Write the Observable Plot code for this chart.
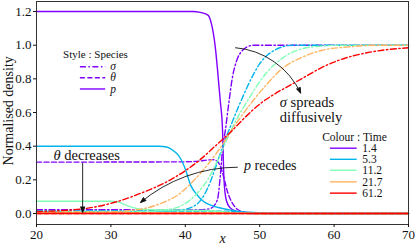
<!DOCTYPE html>
<html><head><meta charset="utf-8">
<script src="https://cdn.jsdelivr.net/npm/d3@7"></script>
<script src="https://cdn.jsdelivr.net/npm/@observablehq/plot@0.6"></script>
<style>body{margin:0;background:#fff}</style>
</head><body><div id="chart"></div>
<script>
// ---- data ----
const times = [1.4, 5.3, 11.2, 21.7, 61.2];
const timeColors = ["#8000ff", "#00b4eb", "#80ffb4", "#ffb462", "#ff0000"];
const speciesNames = ["σ", "θ", "p"];
const xTicks = [20, 30, 40, 50, 60, 70];
const yTicks = [0, 0.2, 0.4, 0.6, 0.8, 1.0, 1.2];

// sigma (dash-dot)
const sigma_1_4 = [[20,0.022],[42,0.022],[43.4,0.03],[44.3,0.08],[44.7,0.22],[45,0.38],[45.4,0.5],[45.8,0.64],[46.3,0.8],[47,0.92],[47.6,0.965],[48.3,0.99],[49.2,1.0],[70,1.0]];
const sigma_5_3 = [[20,0.015],[38,0.016],[40,0.025],[41,0.04],[42,0.075],[43,0.15],[43.8,0.24],[44.5,0.33],[45.3,0.43],[46,0.51],[47.4,0.66],[48.2,0.74],[49.2,0.83],[50,0.89],[51,0.94],[52,0.97],[53,0.99],[54.5,1.0],[70,1.0]];
const sigma_11_2 = [[20,0.01],[35,0.012],[37,0.02],[39.4,0.045],[41.6,0.12],[43,0.2],[44.5,0.33],[46.2,0.5],[48.5,0.68],[50.8,0.83],[53.1,0.925],[55.8,0.98],[58.4,0.995],[61,1.0],[70,1.0]];
const sigma_21_7 = [[20,0.008],[30,0.01],[33,0.02],[35,0.035],[37,0.065],[39,0.11],[41,0.19],[43,0.29],[45,0.41],[46.3,0.5],[48.4,0.63],[50.8,0.76],[53,0.86],[55.8,0.93],[58.4,0.97],[62,0.99],[66,1.0],[70,1.0]];
const sigma_61_2 = [[20,0.012],[25,0.022],[30,0.06],[34,0.12],[38,0.2],[42,0.32],[44,0.4],[46,0.48],[48,0.57],[50,0.65],[52,0.71],[54,0.76],[56,0.81],[58,0.86],[60,0.9],[62,0.93],[65,0.96],[70,0.985]];

// theta (dashed)
const theta_1_4 = [[20,0.305],[40,0.307],[42,0.312],[43,0.318],[43.7,0.32],[44.3,0.31],[44.8,0.27],[45.2,0.21],[45.6,0.14],[46,0.09],[46.5,0.05],[47,0.025],[48,0.008],[50,0.001],[70,0]];
const theta_5_3 = [[20,0.012],[40,0.012],[44,0.014],[46,0.012],[48,0.005],[50,0.001],[52,0],[70,0]];
const theta_11_2 = [[20,0.008],[44,0.008],[47,0.004],[50,0],[70,0]];
const theta_21_7 = [[20,0.004],[45,0.004],[48,0.001],[50,0],[70,0]];
const theta_61_2 = [[20,0],[70,0]];

// p (solid)
const p_1_4 = [[20,1.2],[41,1.2],[42,1.195],[43,1.18],[43.5,1.13],[44,1.0],[44.3,0.87],[44.7,0.67],[45,0.5],[45.2,0.2],[45.5,0.08],[46,0.035],[47,0.01],[48,0.003],[50,0],[70,0]];
const p_5_3 = [[20,0.4],[36.5,0.4],[37.5,0.395],[38.5,0.37],[39,0.35],[40,0.265],[40.7,0.17],[41.6,0.11],[42.5,0.07],[43.4,0.05],[45,0.03],[46.1,0.02],[47.5,0.01],[48.4,0.007],[50,0.003],[53,0],[70,0]];
const p_11_2 = [[20,0.073],[30,0.073],[31,0.068],[32,0.05],[33,0.035],[34,0.026],[36,0.022],[40,0.02],[43,0.018],[45,0.01],[47,0.003],[50,0],[70,0]];
const p_21_7 = [[20,0.004],[44,0.004],[47,0.001],[50,0],[70,0]];
const p_61_2 = [[20,0],[70,0]];

// annotations (data units)
const arrowSigma = [{x1:46.75, y1:0.985, x2:55.5, y2:0.716}];
const arrowP = [{x1:47.0, y1:0.275, x2:34.0, y2:0.066}];
const arrowTheta = [{x1:26.2, y1:0.30, x2:26.2, y2:0.008}];
const labelSigma = [{x:52.7, y:0.615, text:"*σ* spreads\ndiffusively"}];
const labelP = [{x:47.9, y:0.287, text:"*p* recedes"}];
const labelTheta = [{x:22.3, y:0.346, text:"*θ* decreases"}];
const yLabel = [{x:20, y:0.61, text:"Normalised density"}];

// legends (data units)
const legStyle = {title:"Style : Species", tx:27.93, ty:0.943, x1:25.9, x2:29.3, lx:29.9, rows:[0.872,0.807,0.740]};
const legTime = {title:"Colour : Time", tx:62.74, ty:0.454, x1:59.5, x2:63.1, lx:63.8, rows:[0.388,0.322,0.257,0.188,0.121]};

// ---- build ----
const FONT = "Liberation Serif, serif";
const dashes = {"σ":"6,2.5,1.5,2.5", "θ":"5,2.5", "p":null};
const series = {
  "σ":[sigma_1_4, sigma_5_3, sigma_11_2, sigma_21_7, sigma_61_2],
  "θ":[theta_1_4, theta_5_3, theta_11_2, theta_21_7, theta_61_2],
  "p":[p_1_4, p_5_3, p_11_2, p_21_7, p_61_2]
};
const marks = [];
times.forEach((t, i) => {
  speciesNames.forEach(s => {
    marks.push(Plot.line(series[s][i], {
      x: d => d[0], y: d => d[1], stroke: timeColors[i], strokeWidth: 1.4,
      strokeDasharray: dashes[s] || undefined, curve: "monotone-x"
    }));
  });
});

// style legend
speciesNames.forEach((s, j) => {
  marks.push(Plot.ruleY([legStyle.rows[j]], {y: d => d, x1: legStyle.x1, x2: legStyle.x2, stroke: timeColors[0], strokeWidth: 1.4, strokeDasharray: dashes[s] || undefined}));
});
marks.push(Plot.text([legStyle.title], {x: legStyle.tx, y: legStyle.ty, text: d => d, fontSize: 11, fontFamily: FONT}));
marks.push(Plot.text(speciesNames, {x: legStyle.lx, y: (d, j) => legStyle.rows[j], text: d => "*" + d + "*", textAnchor: "start", fontSize: 11.5, fontFamily: FONT}));

// time legend
marks.push(Plot.ruleY(times, {y: (d, j) => legTime.rows[j], x1: legTime.x1, x2: legTime.x2, stroke: (d, j) => timeColors[j], strokeWidth: 1.4}));
marks.push(Plot.text([legTime.title], {x: legTime.tx, y: legTime.ty, text: d => d, fontSize: 11.5, fontFamily: FONT}));
marks.push(Plot.text(times, {x: legTime.lx, y: (d, j) => legTime.rows[j], text: d => String(d), textAnchor: "start", fontSize: 11.5, fontFamily: FONT}));

// annotations
const arrowOpts = {x1:"x1", y1:"y1", x2:"x2", y2:"y2", stroke: "#111", strokeWidth: 0.9, headLength: 9, headAngle: 40};
marks.push(Plot.arrow(arrowSigma, {...arrowOpts, bend: 30}));
marks.push(Plot.arrow(arrowP, {...arrowOpts, bend: -20}));
marks.push(Plot.arrow(arrowTheta, {...arrowOpts}));
marks.push(Plot.text(labelSigma, {x:"x", y:"y", text:"text", textAnchor:"start", lineHeight: 1.0, fontSize: 14.5, fontFamily: FONT}));
marks.push(Plot.text(labelP, {x:"x", y:"y", text:"text", textAnchor:"start", fontSize: 14, fontFamily: FONT}));
marks.push(Plot.text(labelTheta, {x:"x", y:"y", text:"text", textAnchor:"start", fontSize: 14.5, fontFamily: FONT}));

// axes & labels
marks.push(Plot.frame({stroke: "#333", strokeWidth: 1}));
marks.push(Plot.axisX({ticks: xTicks, tickSize: 3, tickPadding: 2, label: null, fontSize: 13, fontFamily: FONT}));
marks.push(Plot.axisY({ticks: yTicks, tickFormat: d3.format(".1f"), tickSize: 3, tickPadding: 2, label: null, fontSize: 13, fontFamily: FONT}));
marks.push(Plot.text(["*x*"], {frameAnchor: "bottom", dy: 14, lineAnchor: "middle", text: d => d, fontSize: 14, fontFamily: FONT}));
marks.push(Plot.text(yLabel, {x: "x", y: "y", dx: -28, rotate: -90, textAnchor: "middle", lineAnchor: "middle", text: "text", fontSize: 14, fontFamily: FONT}));

const chart = Plot.plot({
  width: 415, height: 248,
  marginLeft: 36, marginRight: 7, marginTop: 1, marginBottom: 24,
  x: {domain: [20, 70]},
  y: {domain: [-0.0654, 1.2597]},
  style: "font-family: 'Liberation Serif', serif; font-size: 12px; background: white; color: #111;",
  marks
});

// filled arrowheads: close the head strokes of each arrow path into a triangle
chart.querySelectorAll('g[aria-label="arrow"] path').forEach(path => {
  const d = path.getAttribute("d") || "";
  const segs = d.split("M");
  const head = segs[segs.length - 1];
  const nums = (head.match(/-?\d*\.?\d+(e-?\d+)?/g) || []).map(Number);
  if (nums.length >= 6) {
    const tri = document.createElementNS("http://www.w3.org/2000/svg", "path");
    tri.setAttribute("d", `M${nums[0]},${nums[1]}L${nums[2]},${nums[3]}L${nums[4]},${nums[5]}Z`);
    tri.setAttribute("fill", "#111");
    tri.setAttribute("stroke", "#111");
    tri.setAttribute("stroke-width", "0.6");
    path.parentNode.appendChild(tri);
  }
});

// italicise *...* segments
const walker = document.createTreeWalker(chart, NodeFilter.SHOW_TEXT);
const nodes = [];
while (walker.nextNode()) if (walker.currentNode.nodeValue.includes("*")) nodes.push(walker.currentNode);
nodes.forEach(n => {
  const parts = n.nodeValue.split("*");
  const frag = document.createDocumentFragment();
  parts.forEach((p, k) => {
    if (!p) return;
    if (k % 2 === 1) {
      const ts = document.createElementNS("http://www.w3.org/2000/svg", "tspan");
      ts.setAttribute("font-style", "italic");
      ts.textContent = p;
      frag.appendChild(ts);
    } else frag.appendChild(document.createTextNode(p));
  });
  n.parentNode.replaceChild(frag, n);
});
document.getElementById("chart").appendChild(chart);
</script>
</body></html>
